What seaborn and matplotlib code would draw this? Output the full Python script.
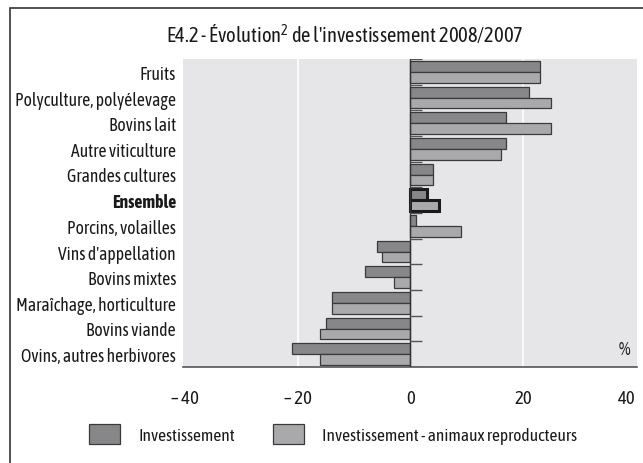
import numpy as np
import pandas as pd
import seaborn as sns
import matplotlib.pyplot as plt
from matplotlib import font_manager
from matplotlib.patches import Rectangle

# Data
categories = ["Fruits", "Polyculture, polyélevage", "Bovins lait", "Autre viticulture",
              "Grandes cultures", "Ensemble", "Porcins, volailles", "Vins d'appellation",
              "Bovins mixtes", "Maraîchage, horticulture", "Bovins viande",
              "Ovins, autres herbivores"]
investissement = [23, 21, 17, 17, 4, 3, 1, -6, -8, -14, -15, -21]
invest_hors_repro = [23, 25, 25, 16, 4, 5, 9, -5, -3, -14, -16, -16]
series = ["Investissement", "Investissement - animaux reproducteurs"]
xticks = [-40, -20, 0, 20, 40]
xtick_labels = ["– 40", "– 20", "0", "20", "40"]

df = pd.DataFrame({
    "categorie": categories * 2,
    "valeur": investissement + invest_hors_repro,
    "serie": [series[0]] * len(categories) + [series[1]] * len(categories),
})

sns.set_theme(style="white")

# look for a narrow font, the reference uses a condensed face
fonts = font_manager.fontManager.ttflist
narrow = [f for f in fonts if "Narrow" in f.name or "Condensed" in f.name]
# prefer a narrow family that also has a bold face
bold_names = {f.name for f in narrow if f.weight in (700, "bold")}
narrow_name = None
if narrow:
    narrow_name = sorted(bold_names)[0] if bold_names else narrow[0].name
if narrow_name:
    plt.rcParams["font.family"] = [narrow_name, "DejaVu Sans"]
    fs = 12.5
else:
    plt.rcParams["font.family"] = ["DejaVu Sans"]
    fs = 9.5
plt.rcParams["mathtext.default"] = "regular"

fig = plt.figure(figsize=(6.43, 4.64), dpi=100)
ax = fig.add_axes([183 / 643, 1 - 368 / 464, (637 - 183) / 643, (368 - 60) / 464])

sns.barplot(data=df, y="categorie", x="valeur", hue="serie", order=categories,
            hue_order=series, palette=["#87878a", "#a9a9ab"], width=0.84, gap=0,
            edgecolor="#3a3a3a", linewidth=0.9, saturation=1, ax=ax, legend=False)

# Ensemble highlighted with thick outline
i_ens = categories.index("Ensemble")
for cont in ax.containers:
    cont[i_ens].set_edgecolor("#1a1a1a")
    cont[i_ens].set_linewidth(2.2)

ax.set_facecolor("#e6e6e8")
ax.set_xlim(-40.35, 40.2)
ax.set_ylim(len(categories) - 0.5, -0.5)
for v in [-20, 20]:
    ax.axvline(v, color="white", lw=1.2, zorder=0.5)
ax.axvline(0, color="#333333", lw=1.0, zorder=3)
# small separator ticks along the zero axis
ax.hlines(np.arange(len(categories) + 1) - 0.5, 0, 2, color="#555555", lw=1.0, zorder=3)

for s in ["top", "right", "left"]:
    ax.spines[s].set_visible(False)
ax.spines["bottom"].set_color("#555555")
ax.spines["bottom"].set_linewidth(1.2)

ax.set_xticks(xticks)
ax.set_xticklabels(xtick_labels, fontsize=fs + 1, color="#1a1a1a")
ax.get_xticklabels()[-1].set_horizontalalignment("right")
ax.tick_params(axis="x", direction="out", length=8, width=1.0, color="#555555", pad=8)
ax.tick_params(axis="y", length=0, pad=5, labelsize=fs + 0.2, labelcolor="#1a1a1a")
ax.set_xlabel("")
ax.set_ylabel("")
for lab in ax.get_yticklabels():
    if lab.get_text() == "Ensemble":
        lab.set_fontweight("bold")

ax.text(0.985, 0.06, "%", transform=ax.transAxes, ha="right", va="center",
        fontsize=fs + 1, color="#1a1a1a")

fig.text(345 / 643, 1 - 35 / 464, "E4.2 - Évolution$^2$ de l'investissement 2008/2007",
         ha="center", va="center", fontsize=fs + 2.3, color="#1a1a1a")

# outer frame
fig.patches.append(Rectangle((10 / 643, -0.05), 1.1, 1 - 9 / 464 + 0.05,
                             transform=fig.transFigure, fill=False,
                             edgecolor="#333333", lw=1.2))

handles = [Rectangle((0, 0), 1, 1, facecolor=c, edgecolor="#3a3a3a", lw=0.9)
           for c in ["#87878a", "#a9a9ab"]]
ppx = fs * 100 / 72
leg = fig.legend(handles, series, loc="center", bbox_to_anchor=(333 / 643, 1 - 435 / 464),
                 ncol=2, frameon=False, fontsize=fs, handlelength=31 / ppx,
                 handleheight=24 / ppx, handletextpad=18 / ppx, columnspacing=38 / ppx)
for t in leg.get_texts():
    t.set_color("#1a1a1a")

fig.savefig("out.png", dpi=100)
